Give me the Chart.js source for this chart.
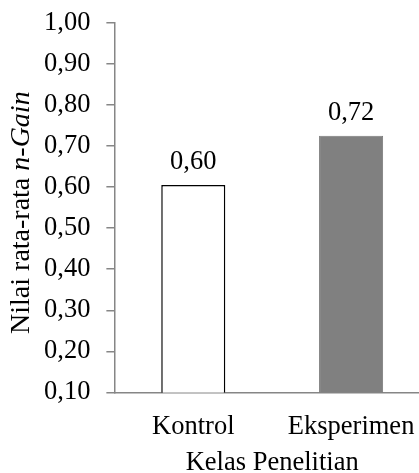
<!DOCTYPE html>
<html lang="id">
<head>
  <meta charset="UTF-8">
  <title>Nilai rata-rata n-Gain</title>
  <script src="https://cdn.jsdelivr.net/npm/chart.js"></script>
  <style>
    html, body { margin: 0; padding: 0; background: #fff; overflow: hidden; }
    /* chart area runs off the right edge in the reference, so the canvas is wider than the page */
    #wrap { position: absolute; left: 0; top: -9px; width: 430px; height: 480px; }
  </style>
</head>
<body>
  <div id="wrap"><canvas id="gainChart"></canvas></div>

  <script>
    // data
    const categories = ['Kontrol', 'Eksperimen'];
    const gainValues = [0.605, 0.725];
    const gainLabels = ['0,60', '0,72'];
    const barColors = ['#ffffff', '#808080'];
    const barBorders = ['#000000', '#7a7a7a'];

    const fontFamily = '"Liberation Serif", "Times New Roman", serif';
    const axisGray = '#868686';
    const fontSize = 26.5;

    // value labels above the bars
    const valueLabels = {
      id: 'valueLabels',
      afterDatasetsDraw(chart) {
        const ctx = chart.ctx;
        const meta = chart.getDatasetMeta(0);
        ctx.save();
        ctx.font = fontSize + 'px ' + fontFamily;
        ctx.fillStyle = '#000';
        ctx.textAlign = 'center';
        ctx.textBaseline = 'alphabetic';
        meta.data.forEach((bar, i) => {
          ctx.fillText(gainLabels[i], bar.x, bar.y - 16);
        });
        ctx.restore();
      }
    };

    // y axis title, with "n-Gain" in italics
    const yTitle = {
      id: 'yTitle',
      afterDraw(chart) {
        const ctx = chart.ctx;
        const area = chart.chartArea;
        const partA = 'Nilai rata-rata ';
        const partB = 'n-Gain';
        ctx.save();
        ctx.fillStyle = '#000';
        ctx.textBaseline = 'alphabetic';
        ctx.textAlign = 'left';
        ctx.font = '28px ' + fontFamily;
        const wA = ctx.measureText(partA).width;
        ctx.font = 'italic 28px ' + fontFamily;
        const wB = ctx.measureText(partB).width;
        ctx.translate(29, (area.top + area.bottom) / 2 + 5);
        ctx.rotate(-Math.PI / 2);
        const start = -(wA + wB) / 2;
        ctx.font = '28px ' + fontFamily;
        ctx.fillText(partA, start, 0);
        ctx.font = 'italic 28px ' + fontFamily;
        ctx.fillText(partB, start + wA, 0);
        ctx.restore();
      }
    };

    new Chart(document.getElementById('gainChart'), {
      type: 'bar',
      data: {
        labels: categories,
        datasets: [{
          data: gainValues,
          backgroundColor: barColors,
          borderColor: barBorders,
          borderWidth: [1.5, 1],
          barPercentage: 0.406,
          categoryPercentage: 1
        }]
      },
      options: {
        responsive: true,
        maintainAspectRatio: false,
        animation: false,
        layout: { padding: { left: 28, top: 0, right: 0, bottom: -8 } },
        plugins: {
          legend: { display: false },
          tooltip: { enabled: false }
        },
        scales: {
          x: {
            grid: { display: false },
            border: { display: true, color: axisGray, width: 1.5 },
            ticks: { color: '#000', font: { family: fontFamily, size: fontSize }, padding: 11 },
            title: {
              display: true,
              text: 'Kelas Penelitian',
              color: '#000',
              font: { family: fontFamily, size: fontSize },
              padding: { top: -7, bottom: 0 }
            }
          },
          y: {
            min: 0.1,
            max: 1.0,
            grid: { drawOnChartArea: false, drawTicks: true, tickLength: 8, color: axisGray, lineWidth: 1.5 },
            border: { display: true, color: axisGray, width: 1.5 },
            ticks: {
              stepSize: 0.1,
              padding: 16,
              color: '#000',
              font: { family: fontFamily, size: fontSize },
              callback: v => v.toFixed(2).replace('.', ',')
            }
          }
        }
      },
      plugins: [valueLabels, yTitle]
    });
  </script>
</body>
</html>
